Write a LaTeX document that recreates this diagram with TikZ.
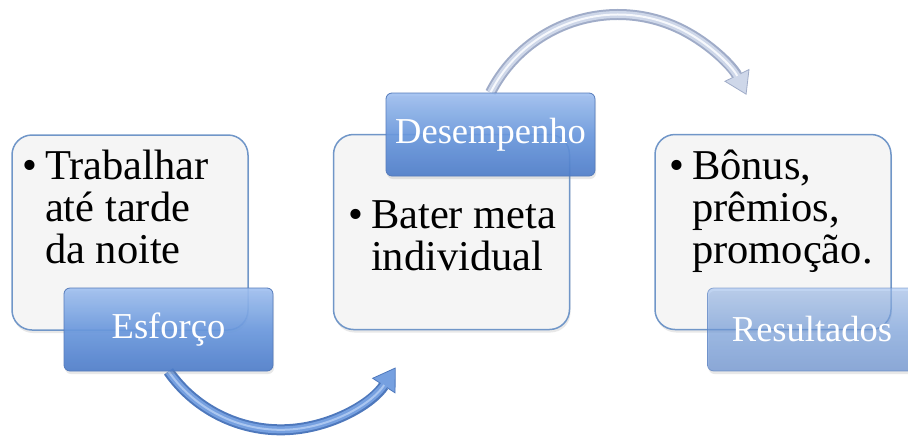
\documentclass[tikz,border=0pt]{standalone}
\usepackage{fontspec}
\setmainfont{Liberation Serif}
\usetikzlibrary{arrows.meta,shadows,backgrounds}

\definecolor{boxline}{RGB}{112,150,200}
\definecolor{boxfill}{RGB}{245,245,245}
\definecolor{labtop}{RGB}{160,192,240}
\definecolor{labmid}{RGB}{105,152,222}
\definecolor{labbot}{RGB}{76,124,202}
\definecolor{labline}{RGB}{84,122,186}
\definecolor{arrdark}{RGB}{78,120,188}
\definecolor{arrmid}{RGB}{118,160,224}
\definecolor{arrlight}{RGB}{170,198,240}
\definecolor{silvdark}{RGB}{160,172,200}
\definecolor{silvmid}{RGB}{206,215,233}
\definecolor{silvlight}{RGB}{246,248,252}

\begin{document}
\begin{tikzpicture}[x=1pt,y=-1pt,
  textbox/.style={draw=boxline,line width=1.5pt,fill=boxfill,rounded corners=20pt,
    minimum width=236pt,minimum height=195pt,
    drop shadow={shadow xshift=1pt,shadow yshift=-3pt,opacity=0.18}},
  labelbox/.style={draw=labline,line width=0.8pt,rounded corners=6pt,
    top color=labtop,bottom color=labbot,middle color=labmid,
    minimum width=209pt,minimum height=83pt,text=white,
    font=\fontsize{36.5}{40}\selectfont,fill opacity=0.9,text opacity=1,
    drop shadow={shadow xshift=1pt,shadow yshift=-3pt,opacity=0.18}},
  bullets/.style={anchor=base west,inner sep=0pt,font=\fontsize{42.5}{42}\selectfont},
  bluearrow/.style={line width=11pt,draw=arrdark,
    -{Triangle[length=22pt,width=28pt,line width=0.8pt,fill=arrmid]},
    postaction={draw=arrmid,line width=7pt,shorten >=19pt,-},
    postaction={draw=arrlight,line width=2pt,shorten >=21pt,-}},
  silverarrow/.style={line width=11pt,draw=silvdark,
    -{Triangle[length=22pt,width=28pt,line width=0.8pt,fill=silvmid]},
    postaction={draw=silvmid,line width=7pt,shorten >=19pt,-},
    postaction={draw=silvlight,line width=2pt,shorten >=21pt,-}}]
\useasboundingbox (0,0) rectangle (908,440);

% text boxes
\node[textbox] (trab) at (130,232.5) {};
\node[textbox] (meta) at (451.5,232) {};
\node[textbox] (bonus) at (773,232) {};

\node[bullets] (t1) at (22,179) {\begin{tabular}[t]{@{}l@{\hspace{8pt}}l@{}}\textbullet&Trabalhar\\&até tarde\\&da noite\end{tabular}};
\node[bullets] (t2) at (348,228) {\begin{tabular}[t]{@{}l@{\hspace{8pt}}l@{}}\textbullet&Bater meta\\&individual\end{tabular}};
\node[bullets] (t3) at (669,179) {\begin{tabular}[t]{@{}l@{\hspace{8pt}}l@{}}\textbullet&Bônus,\\&prêmios,\\&promoção.\end{tabular}};

% labels
\node[labelbox] (esforco) at (168.5,329.5) {Esforço};
\node[labelbox] (desemp) at (490.5,134.5) {Desempenho};
\node[labelbox,fill opacity=0.6,draw opacity=0.6] (result) at (812,329.5) {Resultados};

% arrows
\begin{pgfonlayer}{background}
\draw[bluearrow] (esforco.south) arc[start angle=145,end angle=33,radius=137];
\draw[silverarrow] (desemp.north) arc[start angle=207,end angle=334,radius=143];
\end{pgfonlayer}
\end{tikzpicture}
\end{document}
